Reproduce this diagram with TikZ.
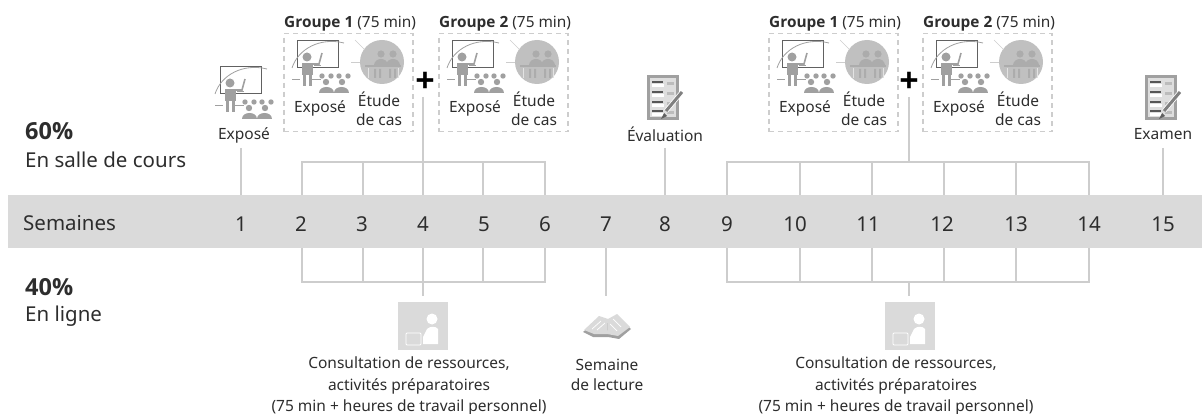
\documentclass[tikz,border=0pt]{standalone}
\usepackage{fontspec}
\setmainfont{Noto Sans}
\newfontfamily\boldface[BoldFont={Open Sans Bold}]{Open Sans}
\newcommand{\bfx}[1]{{\boldface\bfseries #1}}
\definecolor{band}{RGB}{218,218,218}
\definecolor{linegray}{RGB}{205,205,205}
\definecolor{icongray}{RGB}{160,160,160}
\definecolor{circgray}{RGB}{192,192,192}
\definecolor{figgray}{RGB}{172,172,172}
\definecolor{txt}{RGB}{45,45,45}
\tikzset{
  lbl/.style={font=\fontsize{15.5}{19}\selectfont, text=txt, align=center, inner sep=0pt},
  wk/.style={font=\fontsize{20.5}{22}\selectfont, text=txt, inner sep=0pt},
  big/.style={font=\fontsize{20.5}{24}\selectfont, text=txt, align=left, inner sep=0pt, anchor=west},
  bigb/.style={big, font=\fontsize{23.5}{26}\selectfont},
  grp/.style={font=\fontsize{15.4}{18}\selectfont, text=txt, inner sep=0pt},
  conn/.style={draw=linegray, line width=1.6pt},
  dashbox/.style={draw=linegray, line width=1.5pt, dash pattern=on 5pt off 4pt, inner sep=0pt},
  plusn/.style={font=\fontsize{34}{34}\selectfont, text=black, inner sep=0pt},
  pics/presenter/.style={code={
    \draw[txt!75!white, line width=.9pt] (-18,-27) rectangle (23,0);
    \draw[icongray, line width=.8pt] (-23,1) .. controls (-17,-18) and (5,-30) .. (29,-24);
    \fill[icongray] (-8,-10) circle (4.5);
    \fill[icongray] (-13,-4) rectangle (-2,8);
    \fill[icongray] (-12,8) rectangle (-9,19);
    \fill[icongray] (-6,8) rectangle (-3,19);
    \draw[icongray, line width=1.6pt] (-3,-3) -- (4,-3) -- (7,-14);
    \draw[icongray, line width=1pt] (-1,-1) -- (6,-1);
    \draw[icongray, line width=.8pt] (-23,12) -- (-15,12);
    \draw[icongray, line width=.8pt] (-3,12) -- (6,12);
    \foreach \px in {7,16,24,33}{\fill[icongray] (\px,9) circle (2.7);}
    \foreach \px in {11,27}{\fill[icongray] (\px,15) circle (3.2);}
    \fill[icongray] (4,26) .. controls (4,18) and (19,18) .. (19,26) -- cycle;
    \fill[icongray] (19,26) .. controls (19,18) and (34,18) .. (34,26) -- cycle;
  }},
  pics/casestudy/.style={code={
    \fill[circgray] (0,0) circle (22);
    \draw[linegray, line width=.6pt] (-27,-22) -- (-17,-12);
    \draw[linegray, line width=.6pt] (-31,0) -- (-22,0);
    \fill[figgray] (-1,-8) circle (3.6);
    \fill[figgray] (11,-8) circle (3.6);
    \fill[figgray] (-8,3) .. controls (-7,-5) and (5,-5) .. (6,3) -- cycle;
    \fill[figgray] (4,3) .. controls (5,-5) and (17,-5) .. (18,3) -- cycle;
    \fill[figgray] (-17,3) rectangle (19,5);
    \draw[white!55!circgray, line width=.9pt] (-14,6) -- (-14,16) (16,6) -- (16,16);
    \fill[figgray] (-8,7) rectangle (-6,16) (-3,7) rectangle (-1,16) (7,7) rectangle (9,16) (12,7) rectangle (14,16);
  }},
  pics/laptopper/.style={code={
    \fill[band] (-25,-24) rectangle (25,24);
    \fill[white] (9,-7) circle (5.5);
    \fill[white] (0,18) -- (0,11) -- (4,3) .. controls (7,0) and (13,0) .. (15,3) -- (15,18) -- cycle;
    \draw[white, line width=.9pt, rounded corners=1pt] (-17,7) rectangle (-2,19);
  }},
  pics/bookicon/.style={code={
    \fill[icongray] (-24,5) -- (-7,-9) -- (1,-7) -- (12,-9) -- (24,2) -- (12,12) -- (1,10) -- (-14,10) -- cycle;
    \fill[band] (-23,3) -- (-8,-11) -- (1,-8) -- (0,7) -- (-13,7) -- cycle;
    \fill[band] (1,-8) -- (10,-13) -- (23,0) -- (11,9) -- (0,7) -- cycle;
    \draw[white, line width=.7pt] (-15,2) -- (-6,-6) (-10,3) -- (-2,-4) (6,-8) -- (14,0) (3,-3) -- (10,4);
  }},
  pics/formicon/.style={code={
    \fill[icongray] (-17,-22) rectangle (15,23);
    \fill[white!65!icongray] (-14,-19) rectangle (12,20);
    \foreach \ry in {-16,-6,4,13}{
      \fill[txt!80!white] (-12,\ry) rectangle (-1,\ry+1.8);
      \fill[white] (-12,\ry+3) rectangle (0,\ry+6);
      \fill[white!30!icongray] (3,\ry+1) rectangle (10,\ry+4);
    }
    \draw[white, line width=4.6pt] (18,-5) -- (2,14);
    \draw[icongray!80!black, line width=3pt] (18,-5) -- (2,14);
    \fill[icongray!60!black] (0,16) -- (-3,22) -- (3,19) -- cycle;
  }}
}
\begin{document}
\begin{tikzpicture}[x=1pt,y=-1pt]
\useasboundingbox (0,0) rectangle (1202,414);
\fill[band] (8,195) rectangle (1202,248);

% side labels
\node[bigb] (t60) at (25,131) {\bfx{60\%}};
\node[big] (t60b) at (25,160) {En salle de cours};
\node[bigb] (t40) at (25,287) {\bfx{40\%}};
\node[big] (t40b) at (25,316) {En ligne};
\node[wk, anchor=west] (sem) at (23,223) {Semaines};

% weeks
\foreach \n/\px in {1/241,2/301,3/362,4/423,5/484,6/545,7/606,8/665,9/727,10/795,11/868,12/942,13/1016,14/1089,15/1163}{
  \node[wk] (w\n) at (\px,224) {\n};
}

% brackets
\coordinate (ta) at (302,162); \coordinate (tb) at (545,162);
\coordinate (ba) at (302,282); \coordinate (bb) at (545,282);
\coordinate (tc) at (727,162); \coordinate (td) at (1089,162);
\coordinate (bc) at (727,282); \coordinate (bd) at (1089,282);
\draw[conn] (302,195) -- (ta) -- (tb) -- (545,195);
\draw[conn] (363,162) -- (363,195) (423,162) -- (423,195) (483,162) -- (483,195);
\draw[conn] (302,248) -- (ba) -- (bb) -- (545,248);
\draw[conn] (363,248) -- (363,282) (423,248) -- (423,282) (483,248) -- (483,282);
\draw[conn] (727,195) -- (tc) -- (td) -- (1089,195);
\draw[conn] (800,162) -- (800,195) (872,162) -- (872,195) (944,162) -- (944,195) (1016,162) -- (1016,195);
\draw[conn] (727,248) -- (bc) -- (bd) -- (1089,248);
\draw[conn] (800,248) -- (800,282) (872,248) -- (872,282) (944,248) -- (944,282) (1016,248) -- (1016,282);

% single-week connectors
\draw[conn] (241,148) -- (241,195);
\draw[conn] (665,148) -- (665,195);
\draw[conn] (1163,148) -- (1163,195);
\draw[conn] (606,248) -- (606,296);
\draw[conn] (423,97) -- (423,162);
\draw[conn] (423,282) -- (423,296);
\draw[conn] (909,97) -- (909,162);
\draw[conn] (909,282) -- (909,296);

% group boxes
\foreach \bx/\tag/\gtxt in {283/a/1,438/b/2,768/c/1,922/d/2}{
  \node[dashbox, minimum width=129pt, minimum height=98pt, anchor=north west] (box\tag) at (\bx,33) {};
  \node[grp, anchor=base west] (g\tag) at (\bx+1,28) {\bfx{Groupe \gtxt} (75 min)};
  \pic at (\bx+32,67) {presenter};
  \pic at (\bx+99,62) {casestudy};
  \node[lbl] (ex\tag) at (\bx+37,108) {Exposé};
  \node[lbl] (et\tag) at (\bx+96,109) {Étude\\de cas};
}
\node[plusn] (p1) at (425,82) {\bfx{+}};
\node[plusn] (p2) at (909,82) {\bfx{+}};

% single items
\pic at (238,93) {presenter};
\node[lbl] (e1) at (244,135) {Exposé};
\pic at (664,97) {formicon};
\node[lbl] (ev) at (665,134) {Évaluation};
\pic at (1162,97) {formicon};
\node[lbl] (exm) at (1163,134) {Examen};

% bottom
\pic at (423,326) {laptopper};
\pic at (910,326) {laptopper};
\pic at (607,327) {bookicon};
\node[lbl, font=\fontsize{15.5}{21.5}\selectfont] (r1) at (409,386) {Consultation de ressources,\\activités préparatoires\\(75 min + heures de travail personnel)};
\node[lbl, font=\fontsize{15.5}{21.5}\selectfont] (r2) at (896,386) {Consultation de ressources,\\activités préparatoires\\(75 min + heures de travail personnel)};
\node[lbl, font=\fontsize{15.5}{20}\selectfont] (sl) at (607,375) {Semaine\\de lecture};
\end{tikzpicture}
\end{document}
